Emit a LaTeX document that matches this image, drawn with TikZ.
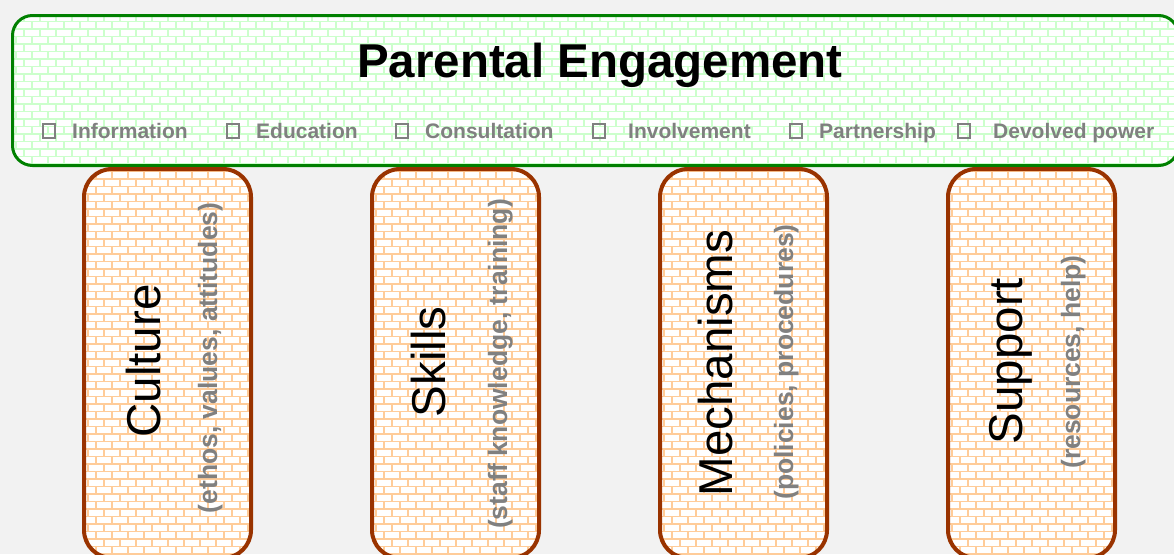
\documentclass[tikz,border=0pt]{standalone}
\usepackage{fontspec}
\setmainfont{Liberation Sans}
\usetikzlibrary{patterns}
\definecolor{bggray}{HTML}{F2F2F2}
\definecolor{pegreen}{HTML}{008000}
\definecolor{greenmortar}{HTML}{CCFFCC}
\definecolor{boxbrown}{HTML}{993300}
\definecolor{orangemortar}{HTML}{FFCC99}
\definecolor{optgray}{HTML}{808080}
\pgfdeclarepatternformonly{brickwall}{\pgfpoint{-1pt}{-1pt}}{\pgfpoint{17pt}{16pt}}{\pgfpoint{16pt}{15pt}}{%
  \pgfsetlinewidth{1.6pt}%
  \pgfpathmoveto{\pgfpoint{0pt}{0pt}}\pgfpathlineto{\pgfpoint{16pt}{0pt}}%
  \pgfpathmoveto{\pgfpoint{0pt}{7.5pt}}\pgfpathlineto{\pgfpoint{16pt}{7.5pt}}%
  \pgfpathmoveto{\pgfpoint{0pt}{0pt}}\pgfpathlineto{\pgfpoint{0pt}{7.5pt}}%
  \pgfpathmoveto{\pgfpoint{8pt}{7.5pt}}\pgfpathlineto{\pgfpoint{8pt}{15pt}}%
  \pgfusepath{stroke}%
}
\tikzset{
  pebox/.style={draw=pegreen, line width=3pt, rounded corners=20pt,
    preaction={fill=white}, preaction={pattern=brickwall, pattern color=greenmortar},
    rectangle, inner sep=0pt, outer sep=0pt, anchor=north west,
    minimum width=1166pt, minimum height=150pt},
  pillar/.style={draw=boxbrown, line width=4pt, rounded corners=28pt,
    preaction={fill=white}, preaction={pattern=brickwall, pattern color=orangemortar},
    rectangle, inner sep=0pt, outer sep=0pt, anchor=north west,
    minimum width=167pt, minimum height=389pt},
  titletext/.style={font=\fontsize{47.5}{50}\selectfont\bfseries, text=black, inner sep=0pt, anchor=base},
  opt/.style={font=\fontsize{21}{24}\selectfont\bfseries, text=optgray, inner sep=0pt, anchor=base west},
  chk/.style={draw=optgray, line width=2.4pt, rectangle, minimum width=12pt, minimum height=14pt,
    inner sep=0pt, outer sep=0pt, anchor=north west},
  mainlbl/.style={font=\fontsize{47.5}{50}\selectfont, text=black, rotate=90, inner sep=0pt, anchor=base},
  sublbl/.style={font=\fontsize{26.5}{30}\selectfont\bfseries, text=optgray, rotate=90, inner sep=0pt, anchor=base}
}
\begin{document}
\begin{tikzpicture}[x=1pt,y=-1pt]
\useasboundingbox (0,0) rectangle (1174,554);
\clip (0,0) rectangle (1174,554);
\fill[bggray] (0,0) rectangle (1174,554);
% top box
\node[pebox] (pe) at (12.5,15.5) {};
\node[titletext] (title) at (600,77) {Parental Engagement};
% options
\node[chk] (c1) at (43.2,124.2) {};
\node[opt] (o1) at (72,138) {Information};
\node[chk] (c2) at (227.2,124.2) {};
\node[opt] (o2) at (256,138) {Education};
\node[chk] (c3) at (396.2,124.2) {};
\node[opt] (o3) at (425,138) {Consultation};
\node[chk] (c4) at (593.2,124.2) {};
\node[opt] (o4) at (628,138) {Involvement};
\node[chk] (c5) at (790.2,124.2) {};
\node[opt] (o5) at (819,138) {Partnership};
\node[chk] (c6) at (958.2,124.2) {};
\node[opt] (o6) at (993,138) {Devolved power};
% pillars
\node[pillar] (p1) at (84,169) {};
\node[pillar] (p2) at (372,169) {};
\node[pillar] (p3) at (660,169) {};
\node[pillar] (p4) at (948,169) {};
\node[mainlbl] (m1) at (160,361) {Culture};
\node[sublbl] (s1) at (217,358) {(ethos, values, attitudes)};
\node[mainlbl] (m2) at (445,362) {Skills};
\node[sublbl] (s2) at (507,364) {(staff knowledge, training)};
\node[mainlbl] (m3) at (732,363) {Mechanisms};
\node[sublbl] (s3) at (793,362) {(policies, procedures)};
\node[mainlbl] (m4) at (1022,361) {Support};
\node[sublbl] (s4) at (1080,362) {(resources, help)};
\end{tikzpicture}
\end{document}
